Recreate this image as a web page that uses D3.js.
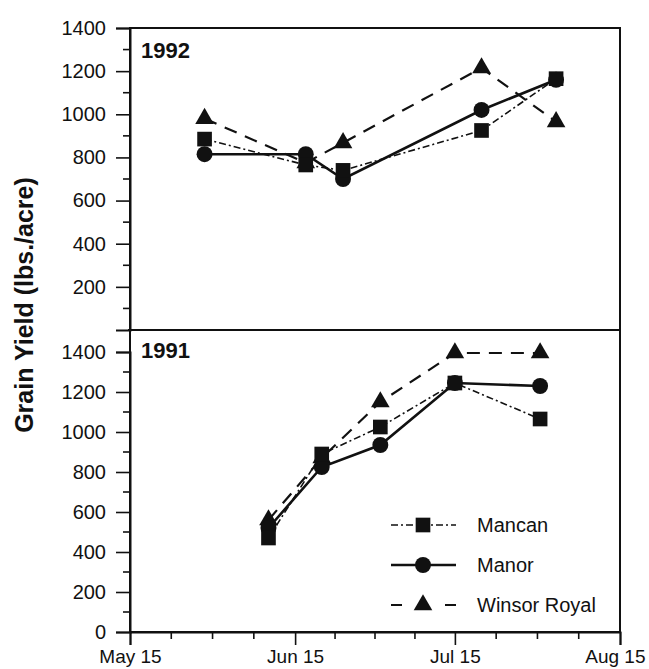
<!DOCTYPE html>
<html>
<head>
<meta charset="utf-8">
<script src="https://cdn.jsdelivr.net/npm/d3@7"></script>
<style>
  body { margin: 0; background: #fff; }
  svg text { font-family: "Liberation Sans", Arial, sans-serif; fill: #111; }
</style>
</head>
<body>
<svg id="chart" width="649" height="669"></svg>
<script>
// sampling dates (month-day) and yields
const dates1992 = ["05-29", "06-17", "06-24", "07-20", "08-03"];
const mancan1992 = [885, 765, 740, 925, 1165];
const manor1992 = [815, 815, 700, 1020, 1160];
const winsor1992 = [980, 775, 868, 1215, 965];

const dates1991 = ["06-10", "06-20", "07-01", "07-15", "07-31"];
const mancan1991 = [470, 890, 1025, 1245, 1065];
const manor1991 = [520, 825, 935, 1245, 1230];
const winsor1991 = [560, 870, 1150, 1395, 1395];

const xTickLabels = ["May 15", "Jun 15", "Jul 15", "Aug 15"];
const xTickDates = ["05-15", "06-15", "07-15", "08-15"];
const yTicksTop = [200, 400, 600, 800, 1000, 1200, 1400];
const yTicksBottom = [0, 200, 400, 600, 800, 1000, 1200, 1400];
const seriesNames = ["Mancan", "Manor", "Winsor Royal"];

const svg = d3.select("#chart");
const pLeft = 130, pRight = 620, pTop = 28, pMid = 330, pBottom = 632;

const parse = s => new Date(1992, +s.slice(0, 2) - 1, +s.slice(3));
const majorDates = xTickDates.map(parse);

const x = d3.scaleTime().domain([majorDates[0], majorDates[3]]).range([pLeft, pRight]);
const yTop = d3.scaleLinear().domain([0, 1400]).range([pMid, pTop]);
const yBot = d3.scaleLinear().domain([0, 1400]).range([pBottom, 352]);

const styles = {
  "Mancan": {dash: "7,3,2,3", width: 1.6, symbol: d3.symbolSquare, size: 215},
  "Manor": {dash: null, width: 2.6, symbol: d3.symbolCircle, size: 200},
  "Winsor Royal": {dash: "13,9", width: 2.2, symbol: d3.symbolTriangle, size: 150}
};

// frames
svg.append("rect").attr("x", pLeft).attr("y", pTop).attr("width", pRight - pLeft).attr("height", pBottom - pTop)
  .attr("fill", "none").attr("stroke", "#111").attr("stroke-width", 2);
svg.append("line").attr("x1", pLeft - 2).attr("x2", pRight).attr("y1", pMid).attr("y2", pMid)
  .attr("stroke", "#111").attr("stroke-width", 2.2);

function yAxis(scale, labels, maxMinor) {
  const minor = d3.range(100, maxMinor, 200);
  const g = svg.append("g").attr("transform", `translate(${pLeft},0)`);
  g.call(d3.axisLeft(scale).tickValues(labels).tickSize(14).tickPadding(10).tickFormat(d3.format("d")));
  g.selectAll(".tick line").attr("stroke", "#111").attr("stroke-width", 1.6);
  g.select(".domain").attr("stroke", "#111").attr("stroke-width", 2);
  g.selectAll(".tick text").attr("font-size", 20).attr("fill", "#111");
  g.selectAll(".minor").data(minor).enter().append("line")
    .attr("x1", -7).attr("x2", 0).attr("y1", d => scale(d)).attr("y2", d => scale(d))
    .attr("stroke", "#111").attr("stroke-width", 1.6);
}
yAxis(yTop, yTicksTop, 1400);
yAxis(yBot, yTicksBottom, 1400);

// x axis
const xg = svg.append("g").attr("transform", `translate(0,${pBottom})`);
xg.call(d3.axisBottom(x).tickValues(majorDates).tickSize(13).tickPadding(5)
  .tickFormat((d, i) => xTickLabels[i]));
xg.select(".domain").attr("stroke", "#111").attr("stroke-width", 2);
xg.selectAll(".tick line").attr("stroke", "#111").attr("stroke-width", 1.6);
xg.selectAll(".tick text").attr("font-size", 19).attr("fill", "#111");
// last label sits a little left so it stays inside the page
xg.selectAll(".tick text").filter((d, i) => i === 3).attr("text-anchor", "end").attr("x", 25);
const minorX = [];
for (let i = 0; i < 3; i++) {
  const a = majorDates[i], b = majorDates[i + 1];
  [0.25, 0.5, 0.75].forEach(f => minorX.push(d3.interpolateDate(a, b)(f)));
}
xg.selectAll(".minorx").data(minorX).enter().append("line")
  .attr("x1", d => x(d)).attr("x2", d => x(d)).attr("y1", 0).attr("y2", 7)
  .attr("stroke", "#111").attr("stroke-width", 1.6);

// y axis title
svg.append("text").attr("transform", "translate(33,305) rotate(-90)")
  .attr("text-anchor", "middle").attr("font-size", 25).attr("font-weight", "bold")
  .text("Grain Yield (lbs./acre)");

svg.append("text").attr("x", 141).attr("y", 58).attr("font-size", 22).attr("font-weight", "bold").text("1992");
svg.append("text").attr("x", 141).attr("y", 358).attr("font-size", 22).attr("font-weight", "bold").text("1991");

function drawSeries(dates, values, yScale, name) {
  const st = styles[name];
  const pts = dates.map((d, i) => [x(parse(d)), yScale(values[i])]);
  svg.append("path").attr("d", d3.line()(pts)).attr("fill", "none")
    .attr("stroke", "#111").attr("stroke-width", st.width)
    .attr("stroke-dasharray", st.dash);
  svg.selectAll(null).data(pts).enter().append("path")
    .attr("transform", p => `translate(${p[0]},${p[1]})`)
    .attr("d", d3.symbol().type(st.symbol).size(st.size)).attr("fill", "#111");
}

drawSeries(dates1992, winsor1992, yTop, "Winsor Royal");
drawSeries(dates1992, manor1992, yTop, "Manor");
drawSeries(dates1992, mancan1992, yTop, "Mancan");
drawSeries(dates1991, winsor1991, yBot, "Winsor Royal");
drawSeries(dates1991, manor1991, yBot, "Manor");
drawSeries(dates1991, mancan1991, yBot, "Mancan");

// legend
const legendY = d3.scalePoint().domain(seriesNames).range([525, 605]);
seriesNames.forEach(name => {
  const st = styles[name];
  const yy = legendY(name);
  svg.append("line").attr("x1", 391).attr("x2", 456).attr("y1", yy).attr("y2", yy)
    .attr("stroke", "#111").attr("stroke-width", st.width)
    .attr("stroke-dasharray", name === "Winsor Royal" ? "11,43" : st.dash);
  svg.append("path").attr("transform", `translate(423,${yy})`)
    .attr("d", d3.symbol().type(st.symbol).size(st.size)).attr("fill", "#111");
  svg.append("text").attr("x", 477).attr("y", yy + 7).attr("font-size", 20).text(name);
});
</script>
</body>
</html>
